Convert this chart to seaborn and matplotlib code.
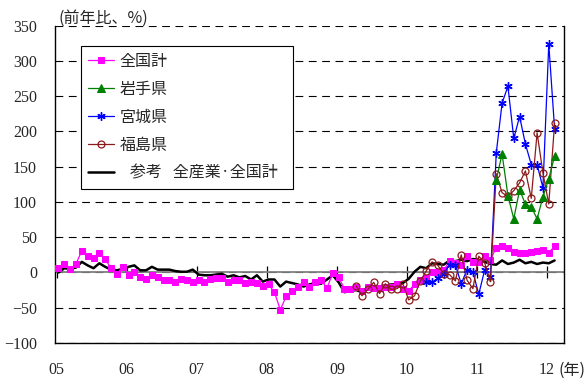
import numpy as np
import pandas as pd
import seaborn as sns
import matplotlib.pyplot as plt

# monthly data, Jan 2005 - Feb 2012 (前年比, %)
months = pd.period_range("2005-01", "2012-02", freq="M")

zenkoku = [6, 12, 5, 12, 31, 24, 21, 28, 19, 6, -2, 8,
           -4, 0, -7, -9, -4, -6, -11, -10, -14, -9, -11, -13,
           -10, -14, -9, -8, -8, -14, -10, -11, -15, -13, -15, -19,
           -17, -28, -53, -34, -27, -20, -13, -21, -14, -11, -22, -1,
           -7, -23, -23, -21, -27, -20, -22, -22, -20, -20, -16, -24,
           -26, -17, -10, -8, 1, 1, 3, 16, 13, 11, 23, 15,
           15, 24, 18, 35, 37, 34, 29, 28, 28, 29, 30, 32,
           28, 37]

zensangyo = [0, 6, 5, 7, 15, 10, 6, 13, 8, 4, 3, 5,
             8, 10, 3, 3, 8, 4, 4, 4, 2, 1, 1, 4,
             -3, -4, -4, -3, -2, -6, -4, -7, -5, -10, -4, -13,
             -10, -10, -20, -13, -15, -17, -20, -17, -15, -16, -10, -4,
             -14, -28, -26, -25, -28, -22, -20, -20, -19, -17, -17, -15,
             -9, 1, 8, 6, 13, 12, 11, 17, 16, 18, 16, 19,
             18, 15, 12, 11, 17, 12, 14, 18, 13, 15, 12, 14,
             13, 17]

iwate_start = "2011-04"
iwate = [131, 168, 109, 76, 117, 97, 93, 76, 107, 133, 165]

miyagi_start = "2010-04"
miyagi = [-14, -14, -8, -2, 11, 11, -16, 4, 1, -31, 3, -7,
          169, 240, 264, 190, 221, 182, 153, 153, 120, 324, 203]

fukushima_start = "2009-04"
fukushima = [-19, -33, -24, -14, -30, -16, -24, -23, -16,
             -39, -33, -12, 2, 15, 10, -2, -3, -12, 25, -11, -23, 23, 14, -13,
             140, 113, 108, 116, 127, 144, 105, 198, 141, 97, 212]

year_labels = ["05", "06", "07", "08", "09", "10", "11", "12"]


def frame(values, start="2005-01"):
    offset = (pd.Period(start, "M") - months[0]).n
    return pd.DataFrame({"pos": np.arange(len(values)) + offset, "value": values})


sns.set_style("white")
plt.rcParams['font.family'] = ['Noto Sans CJK JP', 'DejaVu Sans']

fig = plt.figure(figsize=(5.88, 3.8), dpi=100)
ax = fig.add_axes([0.0935, 0.0974, 0.8656, 0.8353])

ymin, ymax = -100, 350

# reference line first, then prefectures on top
sns.lineplot(data=frame(zensangyo), x="pos", y="value", ax=ax, estimator=None,
             color="black", lw=1.8, zorder=3)
h_ref = ax.lines[-1]
sns.lineplot(data=frame(zenkoku), x="pos", y="value", ax=ax, estimator=None,
             color="#ff00ff", lw=0.9, marker="s", ms=5, mec="#ff00ff", zorder=4)
h_all = ax.lines[-1]
sns.lineplot(data=frame(miyagi, miyagi_start), x="pos", y="value", ax=ax, estimator=None,
             color="#0000ff", lw=0.9, marker=(6, 2, 0), ms=6, mec="#0000ff", mew=1, zorder=5)
h_miy = ax.lines[-1]
sns.lineplot(data=frame(fukushima, fukushima_start), x="pos", y="value", ax=ax, estimator=None,
             color="#8b1a1a", lw=0.9, marker="o", ms=5, mfc="none", mec="#8b1a1a",
             mew=0.9, zorder=6)
h_fuk = ax.lines[-1]
sns.lineplot(data=frame(iwate, iwate_start), x="pos", y="value", ax=ax, estimator=None,
             color="#008000", lw=0.9, marker="^", ms=5.5, mec="#008000", zorder=7)
h_iwa = ax.lines[-1]

ax.axhline(0, color="#808080", lw=1.3, zorder=2)

ax.set_ylim(ymin, ymax)
ax.set_xlim(-0.6, 86.6)
ax.set_yticks(range(-100, 351, 50))
ax.grid(axis="y", color="black", linestyle=(0, (7, 5)), linewidth=0.8)
ax.grid(axis="x", visible=False)
ax.set_xlabel("")
ax.set_ylabel("")

tick_pos = [12 * k - 0.3 for k in range(len(year_labels))]
ax.set_xticks(tick_pos, labels=year_labels)
ax.tick_params(axis="both", length=0, labelsize=11.5, labelfontfamily="Liberation Serif")
ax.tick_params(axis="x", pad=14)
ax.tick_params(axis="y", pad=13)

for side in ["left", "right", "bottom"]:
    ax.spines[side].set_color("black")
    ax.spines[side].set_linewidth(1)
ax.spines["top"].set_visible(False)

# year ticks sit on the zero line
sec = ax.secondary_xaxis((0 - ymin) / (ymax - ymin))
sec.set_xticks(tick_pos, labels=[])
sec.tick_params(direction="inout", length=8, width=0.9, color="black")
sec.spines["bottom"].set_visible(False)
sec.spines["top"].set_visible(False)

ax.text(0.006, 1.024, "(前年比、%)", transform=ax.transAxes, fontsize=11.5,
        ha="left", va="center")
ax.text(0.99, -0.085, "(年)", transform=ax.transAxes, fontsize=11.5,
        ha="left", va="center")

handles = [h_all, h_iwa, h_miy, h_fuk, h_ref]
labels = ["全国計", "岩手県", "宮城県", "福島県", "   参考   全産業·全国計"]
leg = ax.legend(handles, labels, loc="upper left", bbox_to_anchor=(0.051, 0.495, 0.417, 0.441),
                mode="expand", borderaxespad=0, fancybox=False, edgecolor="black",
                framealpha=1, fontsize=11.5, handlelength=1.6, handletextpad=0.35,
                labelspacing=0.68, borderpad=0.45, numpoints=1)
leg.get_frame().set_linewidth(0.8)
leg.set_zorder(10)

fig.savefig("out.png", dpi=100)
